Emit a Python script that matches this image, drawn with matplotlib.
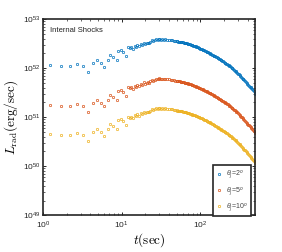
import matplotlib
matplotlib.use("Agg")
import matplotlib.pyplot as plt
import numpy as np

plt.rcParams['font.family'] = ['Liberation Sans', 'DejaVu Sans']
plt.rcParams['mathtext.fontset'] = 'custom'
plt.rcParams['mathtext.rm'] = 'Liberation Sans'
plt.rcParams['mathtext.it'] = 'Liberation Sans:italic'

# time (sec)
t = [1.24, 1.71, 2.23, 2.73, 3.26, 3.78, 4.37, 4.87, 5.48, 6.04, 6.67, 7.2, 7.86, 8.69, 9.1, 9.86, 10.5, 11.3, 12.0,
     12.6, 13.2, 13.9, 14.7, 15.3, 15.9, 16.7, 17.7, 18.4, 19.0, 20.1, 20.8, 21.6, 22.4, 23.1, 24.3, 25.4, 26.2,
     27.0, 28.6, 29.5, 30.3,
     32, 33, 35, 36, 38, 40, 42, 44, 46, 48,
     50.1, 51.3, 52.5, 53.7, 55.0, 56.2, 57.5, 58.9, 60.3, 61.7,
     63.1, 64.6, 66.1, 67.6, 69.2, 70.8, 72.4, 74.1, 75.9, 77.6,
     79.4, 81.3, 83.2, 85.1, 87.1, 89.1, 91.2, 93.3, 95.5, 97.7,
     100, 102.3, 104.7, 107.2, 109.6, 112.2, 114.8, 117.5, 120.2, 123.0,
     125.9, 128.8, 131.8, 134.9, 138.0, 141.3, 144.5, 147.9, 151.4, 154.9,
     158.5, 162.2, 166.0, 169.8, 173.8, 177.8, 182.0, 186.2, 190.5, 195.0,
     199.5, 204.2, 208.9, 213.8, 218.8, 223.9, 229.1, 234.4, 239.9, 245.5,
     251.2, 257.0, 263.0, 269.2, 275.4, 281.8, 288.4, 295.1, 302.0, 309.0,
     316.2, 323.6, 331.1, 338.8, 346.7, 354.8, 363.1, 371.5, 380.2, 389.0,
     398.1, 407.4, 416.9, 426.6, 436.5, 446.7, 457.1, 467.7, 478.6, 489.8,
     500]

# log10 of L_rad (erg/sec)
logL_2deg = [52.06, 52.04, 52.04, 52.08, 52.04, 51.92, 52.10, 52.16, 52.10, 52.03, 52.16, 52.27, 52.22, 52.16, 52.35,
             52.37, 52.33, 52.25, 52.42,
             52.40, 52.42, 52.39, 52.45, 52.43, 52.47, 52.44, 52.49, 52.47, 52.52, 52.49, 52.51, 52.52, 52.51,
             52.54, 52.57, 52.55, 52.57, 52.59, 52.58, 52.59, 52.60,
             52.580, 52.590, 52.580, 52.588, 52.578, 52.580, 52.568, 52.570, 52.558, 52.555,
             52.546, 52.543, 52.540, 52.539, 52.538, 52.534, 52.530, 52.526, 52.522, 52.518,
             52.514, 52.510, 52.505, 52.501, 52.496, 52.492, 52.487, 52.482, 52.476, 52.470,
             52.464, 52.458, 52.452, 52.446, 52.440, 52.434, 52.427, 52.420, 52.413, 52.406,
             52.398, 52.391, 52.383, 52.376, 52.368, 52.360, 52.352, 52.344, 52.336, 52.328,
             52.319, 52.311, 52.302, 52.293, 52.284, 52.275, 52.265, 52.256, 52.246, 52.237,
             52.227, 52.217, 52.207, 52.197, 52.187, 52.177, 52.167, 52.157, 52.146, 52.135,
             52.124, 52.113, 52.102, 52.091, 52.079, 52.068, 52.056, 52.045, 52.033, 52.020,
             52.006, 51.992, 51.978, 51.964, 51.949, 51.935, 51.920, 51.905, 51.889, 51.873,
             51.856, 51.838, 51.820, 51.803, 51.785, 51.768, 51.750, 51.732, 51.714, 51.696,
             51.677, 51.659, 51.640, 51.623, 51.605, 51.585, 51.565, 51.544, 51.523, 51.502,
             51.480]
logL_5deg = [51.25, 51.23, 51.23, 51.27, 51.23, 51.11, 51.29, 51.35, 51.29, 51.22, 51.35, 51.46, 51.41, 51.35, 51.54,
             51.56, 51.52, 51.44, 51.61,
             51.59, 51.61, 51.58, 51.64, 51.62, 51.66, 51.63, 51.68, 51.66, 51.71, 51.68, 51.70, 51.71, 51.70,
             51.73, 51.76, 51.74, 51.76, 51.78, 51.77, 51.78, 51.79,
             51.770, 51.780, 51.770, 51.778, 51.768, 51.770, 51.758, 51.760, 51.748, 51.745,
             51.736, 51.733, 51.730, 51.729, 51.728, 51.724, 51.720, 51.716, 51.712, 51.708,
             51.704, 51.700, 51.695, 51.691, 51.686, 51.682, 51.677, 51.672, 51.666, 51.660,
             51.654, 51.648, 51.642, 51.636, 51.630, 51.624, 51.617, 51.610, 51.603, 51.596,
             51.588, 51.581, 51.573, 51.566, 51.558, 51.550, 51.542, 51.534, 51.526, 51.518,
             51.509, 51.501, 51.492, 51.483, 51.474, 51.465, 51.455, 51.446, 51.436, 51.427,
             51.417, 51.407, 51.397, 51.387, 51.377, 51.367, 51.357, 51.347, 51.336, 51.325,
             51.314, 51.303, 51.292, 51.281, 51.269, 51.258, 51.246, 51.235, 51.223, 51.210,
             51.196, 51.182, 51.168, 51.154, 51.139, 51.125, 51.110, 51.095, 51.079, 51.063,
             51.046, 51.028, 51.010, 50.993, 50.975, 50.958, 50.940, 50.922, 50.904, 50.886,
             50.867, 50.849, 50.830, 50.813, 50.795, 50.775, 50.755, 50.734, 50.713, 50.692,
             50.670]
logL_10deg = [50.65, 50.63, 50.63, 50.67, 50.63, 50.51, 50.69, 50.75, 50.69, 50.62, 50.75, 50.86, 50.81, 50.75, 50.94,
              50.96, 50.92, 50.84, 51.01,
              50.99, 51.01, 50.98, 51.04, 51.02, 51.06, 51.03, 51.08, 51.06, 51.11, 51.08, 51.10, 51.11, 51.10,
              51.13, 51.16, 51.14, 51.16, 51.18, 51.17, 51.18, 51.19,
              51.170, 51.180, 51.170, 51.178, 51.168, 51.170, 51.158, 51.160, 51.148, 51.145,
              51.136, 51.133, 51.130, 51.129, 51.128, 51.124, 51.120, 51.116, 51.112, 51.108,
              51.104, 51.100, 51.095, 51.091, 51.086, 51.082, 51.077, 51.072, 51.066, 51.060,
              51.054, 51.048, 51.042, 51.036, 51.030, 51.024, 51.017, 51.010, 51.003, 50.996,
              50.988, 50.981, 50.973, 50.966, 50.958, 50.950, 50.942, 50.934, 50.926, 50.918,
              50.909, 50.901, 50.892, 50.883, 50.874, 50.865, 50.855, 50.846, 50.836, 50.827,
              50.817, 50.807, 50.797, 50.787, 50.777, 50.767, 50.757, 50.747, 50.736, 50.725,
              50.714, 50.703, 50.692, 50.681, 50.669, 50.658, 50.646, 50.635, 50.623, 50.610,
              50.596, 50.582, 50.568, 50.554, 50.539, 50.525, 50.510, 50.495, 50.479, 50.463,
              50.446, 50.428, 50.410, 50.393, 50.375, 50.358, 50.340, 50.322, 50.304, 50.286,
              50.267, 50.249, 50.230, 50.213, 50.195, 50.175, 50.155, 50.134, 50.113, 50.092,
              50.070]

labels = [r'$\theta_j$=2$^o$', r'$\theta_j$=5$^o$', r'$\theta_j$=10$^o$']
colors = ['#0072BD', '#D95319', '#EDB120']

fig = plt.figure(figsize=(2.82, 2.52), dpi=100)
ax = fig.add_axes([0.1525, 0.1456, 0.7525, 0.779])

for logL, lab, c in zip([logL_2deg, logL_5deg, logL_10deg], labels, colors):
    ax.plot(t, 10 ** np.array(logL), 'o', ms=1.7, mfc='none', mec=c, mew=0.5, label=lab)

ax.set_xscale('log')
ax.set_yscale('log')
ax.set_xlim(1, 500)
ax.set_ylim(1e49, 1e53)

for s in ax.spines.values():
    s.set_linewidth(1.2)
    s.set_color('#262626')
ax.tick_params(which='both', direction='in', top=True, right=True, colors='#262626', labelsize=6)
ax.tick_params(which='major', length=2.5, width=0.7)
ax.tick_params(which='minor', length=1.4, width=0.5)
ax.tick_params(axis='x', pad=3)
ax.tick_params(axis='y', pad=1.5)

ax.text(0.033, 0.939, 'Internal Shocks', transform=ax.transAxes, fontsize=5.5, va='center', color='#222222')

ax.set_xlabel(r'$t(\mathrm{sec})$', fontsize=9.5, math_fontfamily='cm', labelpad=0.5)
ax.set_ylabel(r'$L_{\rm rad}(\mathrm{erg/sec})$', fontsize=9.5, math_fontfamily='cm', labelpad=2)

leg = ax.legend(loc='lower right', bbox_to_anchor=(0.98, -0.004), borderaxespad=0, fontsize=5,
                fancybox=False, framealpha=1, edgecolor='#262626', handlelength=0.8,
                handletextpad=0.7, labelspacing=0.65, borderpad=0.45, markerscale=1.0)
leg.get_frame().set_linewidth(1.2)
for txt in leg.get_texts():
    txt.set_color('#444444')

fig.savefig('out.png', dpi=100)
